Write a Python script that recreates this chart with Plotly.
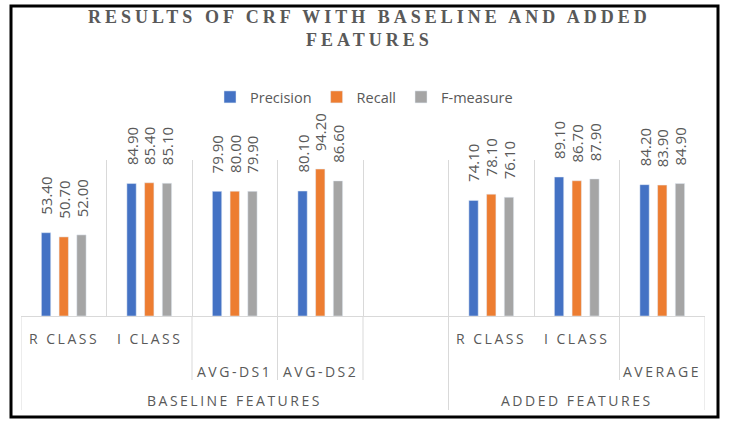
import plotly.graph_objects as go

# ---- data ----
slots = ["R CLASS", "I CLASS", "AVG-DS1", "AVG-DS2", "", "R CLASS", "I CLASS", "AVERAGE"]
slot_row = [1, 1, 2, 2, 2, 1, 1, 2]          # which label row each slot label sits on
groups = ["BASELINE FEATURES", "ADDED FEATURES"]
group_span = [(0, 4), (5, 7)]                # first/last slot index of each group
series = ["Precision", "Recall", "F-measure"]
precision = [53.4, 84.9, 79.9, 80.1, None, 74.1, 89.1, 84.2]
recall = [50.7, 85.4, 80.0, 94.2, None, 78.1, 86.7, 83.9]
fmeasure = [52.0, 85.1, 79.9, 86.6, None, 76.1, 87.9, 84.9]
values = [precision, recall, fmeasure]
colors = ["#4472C4", "#ED7D31", "#A5A5A5"]

title_lines = ["RESULTS OF CRF WITH BASELINE AND ADDED", "FEATURES"]

W, H = 731, 425
L, R, T, B = 21, 26, 160, 109
plot_h = H - T - B

GRAY = "#595959"
LINE = "#D9D9D9"

x = list(range(len(slots)))
bar_w = 0.109
step = 0.207

fig = go.Figure()
annotations = []
for k, (name, vals, col) in enumerate(zip(series, values, colors)):
    centre = (k - 1) * step
    fig.add_trace(go.Bar(
        x=x, y=vals, name=name, marker_color=col,
        width=bar_w, offset=centre - bar_w / 2,
    ))
    for xi, v in zip(x, vals):
        if v is None:
            continue
        annotations.append(dict(
            x=xi + centre, y=v, xref="x", yref="y", text=f"{v:.2f}",
            textangle=-90, showarrow=False, yanchor="bottom", xanchor="center",
            yshift=16, font=dict(family="Open Sans", size=15, color=GRAY),
        ))

def py(pix):
    return (H - B - pix) / plot_h

def px(pix):
    return (pix - L) / (W - L - R)

def spaced(t, s):
    return f'<span style="letter-spacing:{s}px">{t}</span>'

# slot labels
row_y = {1: 338, 2: 371}
for xi, (lab, row) in enumerate(zip(slots, slot_row)):
    if lab:
        annotations.append(dict(
            x=xi, y=py(row_y[row]), xref="x", yref="paper", text=spaced(lab, 2.5),
            showarrow=False, xanchor="center", yanchor="middle",
            font=dict(family="Open Sans", size=14, color=GRAY),
        ))
for g, (a, b) in zip(groups, group_span):
    annotations.append(dict(
        x=(a + b) / 2, y=py(400), xref="x", yref="paper", text=spaced(g, 2.5),
        showarrow=False, xanchor="center", yanchor="middle",
        font=dict(family="Open Sans", size=14, color=GRAY),
    ))

# title
annotations.append(dict(
    x=px(370), y=py(28.5), xref="paper", yref="paper",
    text="<b>" + "<br>".join(spaced(t, 4) for t in title_lines) + "</b>",
    showarrow=False, xanchor="center", yanchor="middle",
    font=dict(family="Liberation Serif", size=18, color=GRAY),
))

shapes = []
# separators below axis
sep = {-0.5: 410, 1.5: 380, 2.5: 380, 3.5: 380, 4.5: 410, 6.5: 380, 7.5: 410}
for sx, bottom in sep.items():
    shapes.append(dict(type="line", xref="x", yref="paper", x0=sx, x1=sx,
                       y0=0, y1=py(bottom), line=dict(color=LINE, width=1)))
# outer border
shapes.append(dict(type="rect", xref="paper", yref="paper",
                   x0=px(11), x1=px(718), y0=py(417), y1=py(6),
                   line=dict(color="black", width=3)))

fig.update_layout(
    width=W, height=H, margin=dict(l=L, r=R, t=T, b=B),
    paper_bgcolor="white", plot_bgcolor="white",
    barmode="group", showlegend=True,
    legend=dict(orientation="h", x=px(364), xanchor="center", y=py(97), yanchor="middle",
                font=dict(family="Open Sans", size=14.5, color=GRAY), itemwidth=30,
                bgcolor="rgba(0,0,0,0)"),
    xaxis=dict(range=[-0.5, len(slots) - 0.5], tickvals=[i - 0.5 for i in range(len(slots) + 1)],
               showticklabels=False, showgrid=True, gridcolor=LINE, gridwidth=1,
               showline=True, linecolor=LINE, linewidth=1, zeroline=False, ticks=""),
    yaxis=dict(range=[0, 100], showgrid=False, showticklabels=False, zeroline=False,
               showline=False, ticks=""),
    annotations=annotations, shapes=shapes,
)

fig.write_html("out.html", config={"displayModeBar": False},
               post_script="document.body.style.margin='0px';document.body.style.padding='0px';")
